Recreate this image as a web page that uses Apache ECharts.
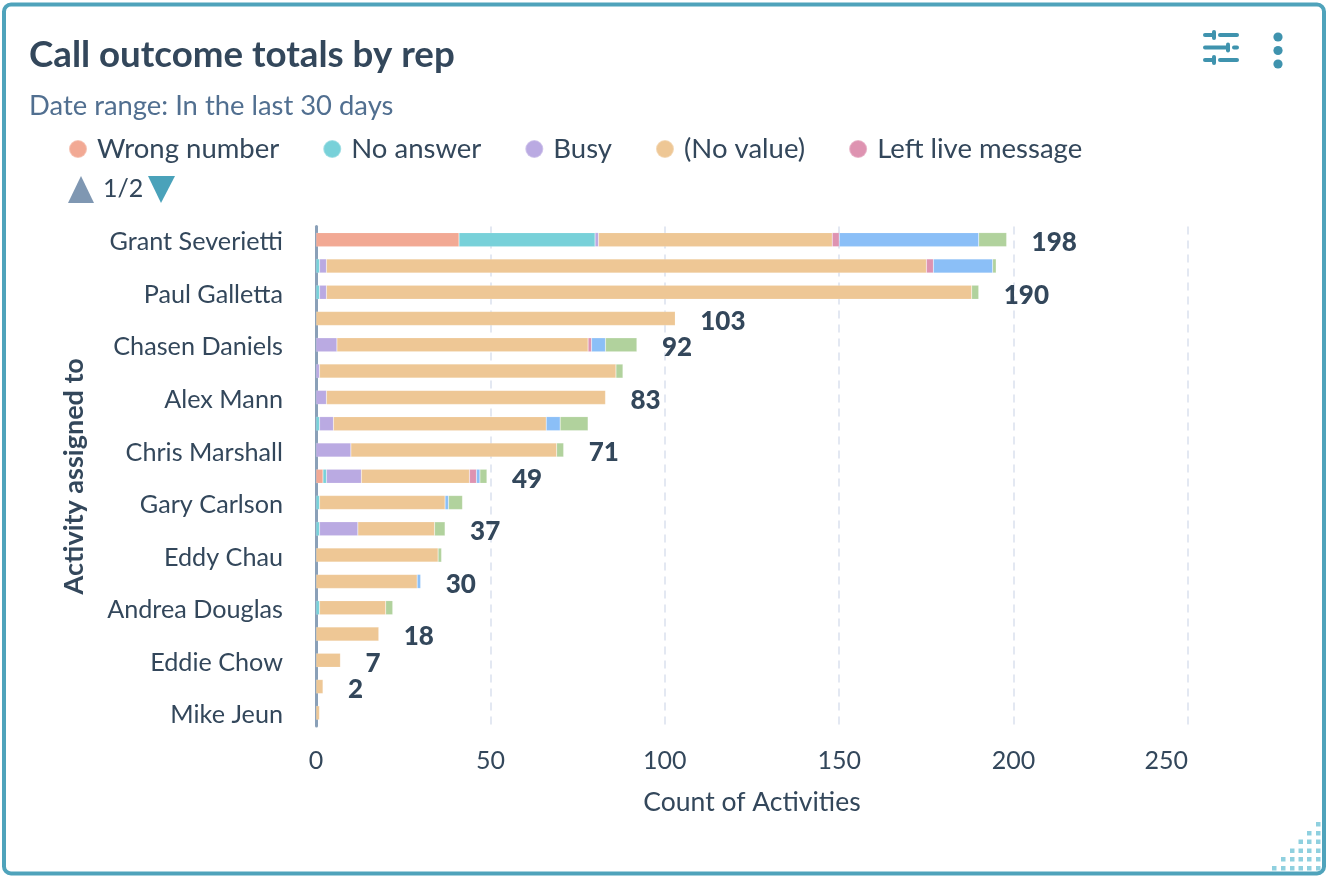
<!DOCTYPE html>
<html><head><meta charset="utf-8">
<style>html,body{margin:0;padding:0;background:#fff}#c{width:1328px;height:878px}</style>
<script src="https://cdn.jsdelivr.net/npm/echarts@6/dist/echarts.min.js"></script>
</head><body><div id="c"></div>
<script>
const categories = ['Grant Severietti','','Paul Galletta','','Chasen Daniels','','Alex Mann','','Chris Marshall','','Gary Carlson','','Eddy Chau','','Andrea Douglas','','Eddie Chow','','Mike Jeun'];
const wrongNumber   = [41,null,null,null,null,null,null,null,null,2,null,null,null,null,null,null,null,null,null];
const noAnswer      = [39,1,1,null,null,null,null,1,null,1,1,1,null,null,1,null,null,null,null];
const busy          = [1,2,2,null,6,1,3,4,10,10,null,11,null,null,null,null,null,null,null];
const noValue       = [67,172,185,103,72,85,80,61,59,31,36,22,35,29,19,18,7,2,1];
const leftLive      = [2,2,null,null,1,null,null,null,null,2,null,null,null,null,null,null,null,null,null];
const leftVoicemail = [40,17,null,null,4,null,null,4,null,1,1,null,null,1,null,null,null,null,null];
const connected     = [8,1,2,null,9,2,null,8,2,2,4,3,1,null,2,null,null,null,null];
const shownTotals   = [198,null,190,103,92,null,83,null,71,49,null,37,null,30,null,18,7,2,null];
const legendNames   = ['Wrong number','No answer','Busy','(No value)','Left live message'];
const xTicks = {min:0,max:250,interval:50};

const FONT='Lato', INK='#33475b', TEAL='#3f93ae';
const stacks=[['Wrong number',wrongNumber,'#f2a994'],['No answer',noAnswer,'#78d1d9'],['Busy',busy,'#baaae2'],['(No value)',noValue,'#eec795'],['Left live message',leftLive,'#de93b1'],['Left voicemail',leftVoicemail,'#8bbff7'],['Connected',connected,'#b1d29d']];
const series=stacks.map(([name,data,color])=>({name,type:'bar',stack:'total',data,barWidth:14,itemStyle:{color,borderColor:'rgba(255,255,255,0.3)',borderWidth:0.5}}));
series.push({name:'Total',type:'scatter',symbolSize:0,itemStyle:{opacity:1},data:shownTotals.map((v,i)=>v==null?null:[v,i]).filter(Boolean),z:5,
  label:{show:true,opacity:1,position:'right',distance:25,offset:[0,3],fontFamily:FONT,fontWeight:900,fontSize:26,color:INK,formatter:p=>String(p.value[0])}});

const g=[];
g.push({type:'rect',z:0,shape:{x:4,y:4.5,width:1320,height:869,r:7},style:{fill:'#fff',stroke:'#4fa3bb',lineWidth:4}});
// header icons
const bar=(x1,x2,y,w)=>({type:'line',shape:{x1,y1:y,x2,y2:y},style:{stroke:TEAL,lineWidth:w||4,lineCap:'round'}});
const knob=(x,y)=>({type:'line',shape:{x1:x,y1:y-3,x2:x,y2:y+3},style:{stroke:TEAL,lineWidth:4,lineCap:'round'}});
[[35,1214,1205,1220,1237],[47.5,1228,1205,1234,1237],[60,1214,1205,1220,1237]].forEach(([y,k,a,b,c])=>{g.push(bar(a,k,y),knob(k,y),bar(b,c,y));});
[37,50.5,64].forEach(y=>g.push({type:'circle',shape:{cx:1278,cy:y,r:4.6},style:{fill:TEAL}}));
// grip dots
const gx=[1272,1281,1290,1298.5,1307,1316], gy=[866,857,848.5,839.5,831,822];
gx.forEach((x,i)=>gy.forEach((y,j)=>{ if(i>=j) g.push({type:'rect',shape:{x,y,width:4.5,height:4.5},style:{fill:'#8fd0df'}}); }));
// legend pager
g.push({type:'polygon',shape:{points:[[81,176],[68,203],[94,203]]},style:{fill:'#7f97b2'}});
g.push({type:'text',style:{x:103,y:189,text:'1/2',font:'25px '+FONT,fill:INK,textVerticalAlign:'middle'}});
g.push({type:'polygon',shape:{points:[[148,176],[175,176],[161,203]]},style:{fill:'#4aa2ba'}});

const chart=echarts.init(document.getElementById('c'),null,{renderer:'canvas'});
chart.setOption({
  animation:false,
  textStyle:{fontFamily:FONT},
  title:[
    {text:'Call outcome totals by rep',left:29,top:37,padding:0,textStyle:{fontFamily:FONT,fontSize:36.7,fontWeight:'bold',color:INK}},
    {text:'Date range: In the last 30 days',left:29,top:93,padding:0,textStyle:{fontFamily:FONT,fontSize:27.4,fontWeight:'normal',color:'#516f90'}}
  ],
  legend:{type:'plain',data:legendNames,left:68,top:135,padding:0,icon:'circle',itemWidth:18,itemHeight:18,itemGap:43,textStyle:{fontFamily:FONT,fontSize:27.5,color:INK,padding:[0,0,0,5]}},
  grid:{left:316,top:226.5,width:872,height:499.5,containLabel:false},
  xAxis:{type:'value',...xTicks,name:'Count of Activities',nameLocation:'middle',nameGap:63,nameTextStyle:{fontFamily:FONT,fontSize:26.5,color:INK},
    axisLine:{show:false},axisTick:{show:false},axisLabel:{fontFamily:FONT,fontSize:25,color:INK,margin:22,alignMaxLabel:'right'},
    splitLine:{show:true,lineStyle:{type:[8,6],color:'#e3e8f2',width:2}}},
  yAxis:{type:'category',inverse:true,data:categories,name:'Activity assigned to',nameLocation:'middle',nameGap:228,nameRotate:90,nameTextStyle:{fontFamily:FONT,fontSize:27,fontWeight:'bold',color:INK},
    axisLine:{show:true,lineStyle:{color:'#8aa0b8',width:3}},axisTick:{show:false},axisLabel:{interval:0,fontFamily:FONT,fontSize:25.2,color:INK,margin:33,verticalAlign:'top',lineHeight:5}},
  series,
  graphic:g
});
</script></body></html>
